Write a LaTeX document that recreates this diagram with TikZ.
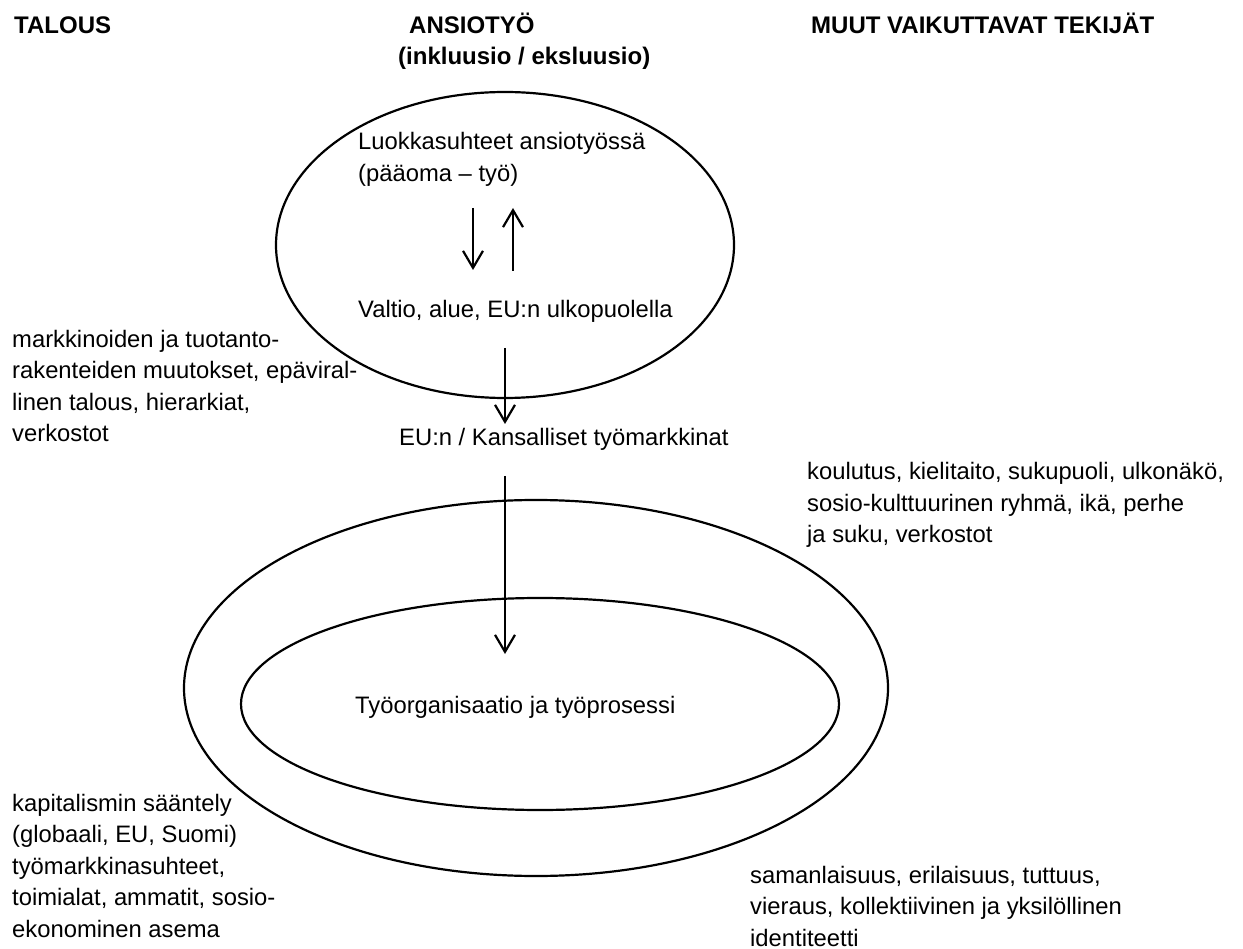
\documentclass[tikz,border=0pt]{standalone}
\usepackage{fontspec}
\setmainfont{Liberation Sans}
\usetikzlibrary{shapes.geometric,arrows.meta}
\begin{document}
\begin{tikzpicture}[x=1pt,y=-1pt,
  txt/.style={font=\fontsize{23.8}{31.5}\selectfont, inner sep=0pt, anchor=base west, align=left},
  hdr/.style={font=\fontsize{24}{28}\selectfont\bfseries, inner sep=0pt, anchor=base west, align=left},
  oval/.style={draw, ellipse, line width=2.2pt, inner sep=0pt},
  arr/.style={line width=2.2pt, -{Straight Barb[length=17pt,width=20pt,line width=2.2pt]}}]
\useasboundingbox (0,0) rectangle (1243,949);
% ellipses
\node[oval, minimum width=458pt, minimum height=306pt] (top) at (505,245) {};
\node[oval, minimum width=704pt, minimum height=376pt] (outer) at (536,688) {};
\node[oval, minimum width=598pt, minimum height=212pt] (inner) at (540,704) {};
% headers
\node[hdr] (talous) at (14,34) {TALOUS};
\node[hdr] (ansio) at (409,34) {ANSIOTYÖ};
\node[hdr] (inkl) at (398,65) {(inkluusio / eksluusio)};
\node[hdr] (muut) at (811,34) {MUUT VAIKUTTAVAT TEKIJÄT};
% body texts (anchor at baseline of last line)
\node[txt] (luokka) at (358,181.5) {Luokkasuhteet ansiotyössä\\(pääoma – työ)};
\node[txt] (valtio) at (358,318) {Valtio, alue, EU:n ulkopuolella};
\node[txt] (eu) at (399,446) {EU:n / Kansalliset työmarkkinat};
\node[txt] (tyo) at (355,713) {Työorganisaatio ja työprosessi};
\node[txt] (markk) at (12,442) {markkinoiden ja tuotanto-\\rakenteiden muutokset, epäviral-\\linen talous, hierarkiat,\\verkostot};
\node[txt] (koul) at (807,543) {koulutus, kielitaito, sukupuoli, ulkonäkö,\\sosio-kulttuurinen ryhmä, ikä, perhe\\ja suku, verkostot};
\node[txt] (kapit) at (12,937) {kapitalismin sääntely\\(globaali, EU, Suomi)\\työmarkkinasuhteet,\\toimialat, ammatit, sosio-\\ekonominen asema};
\node[txt] (saman) at (750,946) {samanlaisuus, erilaisuus, tuttuus,\\vieraus, kollektiivinen ja yksilöllinen\\identiteetti};
% arrows
\coordinate (d1s) at (473,208);
\coordinate (d1e) at (473,270);
\coordinate (u1s) at (513,271);
\coordinate (u1e) at (513,208);
\coordinate (d2s) at (505,348);
\coordinate (d2e) at (505,424);
\coordinate (d3s) at (505,476);
\coordinate (d3e) at (505,654);
\draw[arr] (d1s) -- (d1e);
\draw[arr] (u1s) -- (u1e);
\draw[arr] (d2s) -- (d2e);
\draw[arr] (d3s) -- (d3e);
\end{tikzpicture}
\end{document}
